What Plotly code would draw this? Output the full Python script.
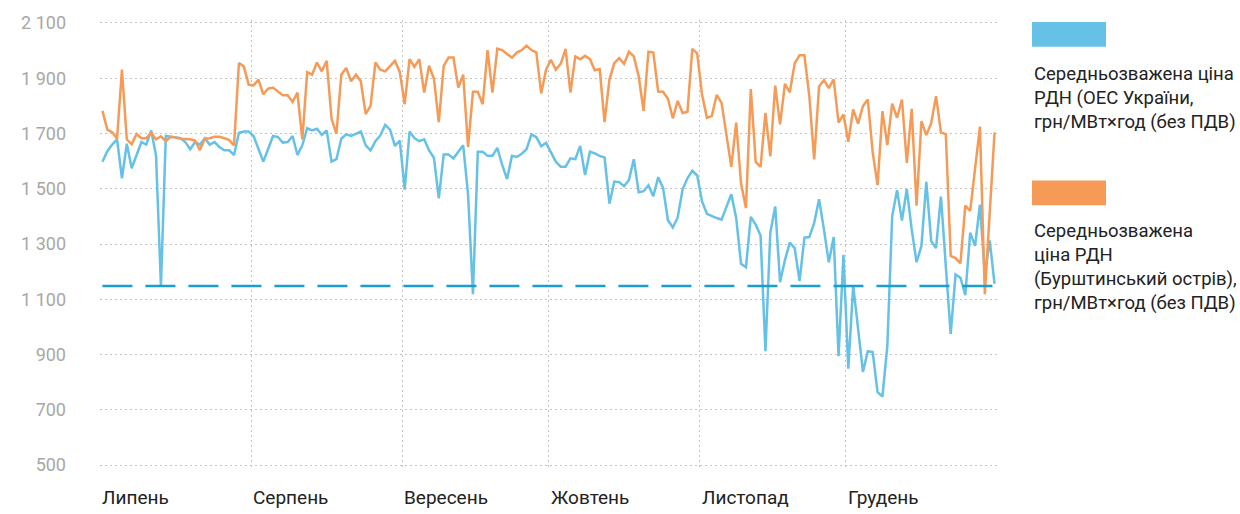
import pandas as pd
import plotly.graph_objects as go

# Daily dates (plotted at mid-day), 1 Jul 2019 - 31 Dec 2019
dates = pd.date_range("2019-07-01 12:00", periods=184, freq="D")

# Weighted average DAM price, IPS of Ukraine (UAH/MWh, excl. VAT)
ukraine_ips = [
    1598, 1636, 1660, 1679, 1538, 1663, 1574, 1622, 1669, 1660,
    1711, 1619, 1148, 1691, 1688, 1686, 1683, 1669, 1643, 1669,
    1660, 1683, 1660, 1669, 1651, 1639, 1639, 1622, 1703, 1707,
    1707, 1691, 1645, 1598, 1645, 1691, 1687, 1667, 1669, 1691,
    1622, 1657, 1719, 1711, 1717, 1695, 1711, 1598, 1607, 1681,
    1697, 1691, 1699, 1707, 1657, 1639, 1672, 1693, 1731, 1714,
    1655, 1674, 1497, 1707, 1683, 1672, 1679, 1639, 1612, 1465,
    1624, 1624, 1610, 1634, 1657, 1480, 1118, 1634, 1634, 1619,
    1619, 1648, 1586, 1535, 1619, 1615, 1627, 1643, 1697, 1687,
    1654, 1666, 1634, 1598, 1580, 1580, 1610, 1607, 1655, 1550,
    1634, 1628, 1619, 1613, 1446, 1526, 1524, 1509, 1532, 1607,
    1487, 1491, 1512, 1473, 1542, 1503, 1386, 1360, 1396, 1497,
    1538, 1565, 1548, 1454, 1409, 1400, 1394, 1388, 1436, 1480,
    1394, 1228, 1216, 1398, 1370, 1331, 912, 1341, 1436, 1162,
    1242, 1305, 1285, 1166, 1323, 1325, 1376, 1462, 1353, 1234,
    1325, 894, 1261, 849, 1150, 1002, 837, 912, 909, 764,
    748, 930, 1400, 1495, 1385, 1499, 1353, 1234, 1293, 1525,
    1311, 1285, 1472, 1220, 975, 1190, 1178, 1115, 1341, 1293,
    1442, 1192, 1313, 1156,
]

# Weighted average DAM price, Burshtyn TPP island (UAH/MWh, excl. VAT)
burshtyn_island = [
    1782, 1714, 1705, 1681, 1931, 1679, 1661, 1698, 1683, 1683,
    1703, 1679, 1690, 1672, 1688, 1686, 1681, 1679, 1679, 1674,
    1640, 1681, 1683, 1688, 1688, 1683, 1676, 1657, 1955, 1943,
    1877, 1874, 1895, 1842, 1862, 1866, 1851, 1838, 1838, 1814,
    1848, 1679, 1922, 1913, 1957, 1925, 1963, 1753, 1699, 1913,
    1937, 1889, 1913, 1889, 1770, 1800, 1957, 1931, 1925, 1945,
    1963, 1922, 1806, 1969, 1941, 1969, 1848, 1945, 1898, 1741,
    1945, 1975, 1975, 1866, 1913, 1651, 1851, 1851, 1806, 2002,
    1848, 2007, 2002, 1988, 1975, 1993, 2002, 2018, 2002, 1994,
    1845, 1931, 1967, 1931, 1952, 2006, 1848, 1979, 1969, 1981,
    1969, 1929, 1933, 1741, 1895, 1955, 1973, 1952, 1996, 1979,
    1907, 1782, 1996, 1993, 1852, 1851, 1826, 1755, 1818, 1774,
    1779, 2006, 1990, 1840, 1757, 1763, 1840, 1811, 1692, 1579,
    1739, 1519, 1430, 1861, 1597, 1579, 1775, 1617, 1873, 1733,
    1880, 1849, 1954, 1983, 1983, 1835, 1606, 1870, 1894, 1864,
    1896, 1739, 1769, 1670, 1787, 1736, 1799, 1823, 1632, 1513,
    1781, 1658, 1808, 1757, 1823, 1594, 1789, 1439, 1745, 1694,
    1737, 1835, 1704, 1698, 1257, 1249, 1230, 1439, 1420, 1573,
    1725, 1118, 1406, 1704,
]

reference_level = 1148

series_names = [
    "Середньозважена ціна<br>РДН (ОЕС України,<br>грн/МВт×год (без ПДВ)",
    "Середньозважена<br>ціна РДН<br>(Бурштинський острів),<br>грн/МВт×год (без ПДВ)",
]
series_colors = ["#66c1e7", "#f59b57"]
dash_color = "#1a9dcf"

month_starts = ["2019-07-01", "2019-08-01", "2019-09-01", "2019-10-01", "2019-11-01", "2019-12-01"]
month_labels = ["Липень", "Серпень", "Вересень", "Жовтень", "Листопад", "Грудень"]

y_tick_values = [500, 700, 900, 1100, 1300, 1500, 1700, 1900, 2100]
y_tick_labels = ["500", "700", "900", "1 100", "1 300", "1 500", "1 700", "1 900", "2 100"]

fig = go.Figure()
fig.add_trace(go.Scatter(x=dates, y=ukraine_ips, mode="lines",
                         line=dict(color=series_colors[0], width=2.5),
                         name="ОЕС України", showlegend=False))
fig.add_trace(go.Scatter(x=dates, y=burshtyn_island, mode="lines",
                         line=dict(color=series_colors[1], width=2.5),
                         name="Бурштинський острів", showlegend=False))
fig.add_trace(go.Scatter(x=[dates[0], dates[-1]], y=[reference_level, reference_level],
                         mode="lines",
                         line=dict(color=dash_color, width=2.5, dash="30px,13px"),
                         showlegend=False))

W, H = 1240, 514
ML, MR, MT, MB = 100, 243, 16, 44
PW, PH = W - ML - MR, H - MT - MB


def px_x(x):
    return (x - ML) / PW


def px_y(y):
    return (H - MB - y) / PH


fig.update_layout(
    width=W, height=H,
    margin=dict(l=ML, r=MR, t=MT, b=MB),
    paper_bgcolor="white", plot_bgcolor="white",
    font=dict(family="Roboto, sans-serif"),
    xaxis=dict(
        type="date",
        range=["2019-07-01", "2020-01-01"],
        tickmode="array",
        tickvals=month_starts[1:],
        showticklabels=False,
        showgrid=True, gridcolor="#c4c4c4", griddash="1.5px,3.5px", gridwidth=1,
        zeroline=False, showline=False, ticks="",
    ),
    yaxis=dict(
        range=[482, 2110.8],
        tickmode="array",
        tickvals=y_tick_values,
        ticktext=y_tick_labels,
        tickfont=dict(size=18, color="#a7a7a7", family="Roboto, sans-serif"),
        ticklabelstandoff=33,
        showgrid=True, gridcolor="#c4c4c4", griddash="1.5px,3.5px", gridwidth=1,
        zeroline=False, showline=False, ticks="",
    ),
)

# Month labels, left-aligned at month start
for d, lab in zip(month_starts, month_labels):
    fig.add_annotation(x=d, xref="x", y=px_y(498), yref="paper",
                       text=lab, showarrow=False, xanchor="left", yanchor="middle",
                       font=dict(size=19, color="#222222", family="Roboto, sans-serif"))

# Custom legend
legend_swatch_y = [(18, 43), (178, 203)]
legend_text_mid = [95, 265]
for color, (y0, y1), name, ym in zip(series_colors, legend_swatch_y, series_names, legend_text_mid):
    fig.add_shape(type="rect", xref="paper", yref="paper",
                  x0=px_x(1032), x1=px_x(1106), y0=px_y(y1), y1=px_y(y0),
                  fillcolor=color, line=dict(width=0))
    fig.add_annotation(x=px_x(1032), xref="paper", y=px_y(ym), yref="paper",
                       text=name, showarrow=False, xanchor="left", yanchor="middle",
                       align="left",
                       font=dict(size=18.5, color="#222222", family="Roboto, sans-serif"))

fig.write_html("out.html",
               config={"displayModeBar": False},
               post_script="document.body.style.margin='0px';document.body.style.overflow='hidden';")
